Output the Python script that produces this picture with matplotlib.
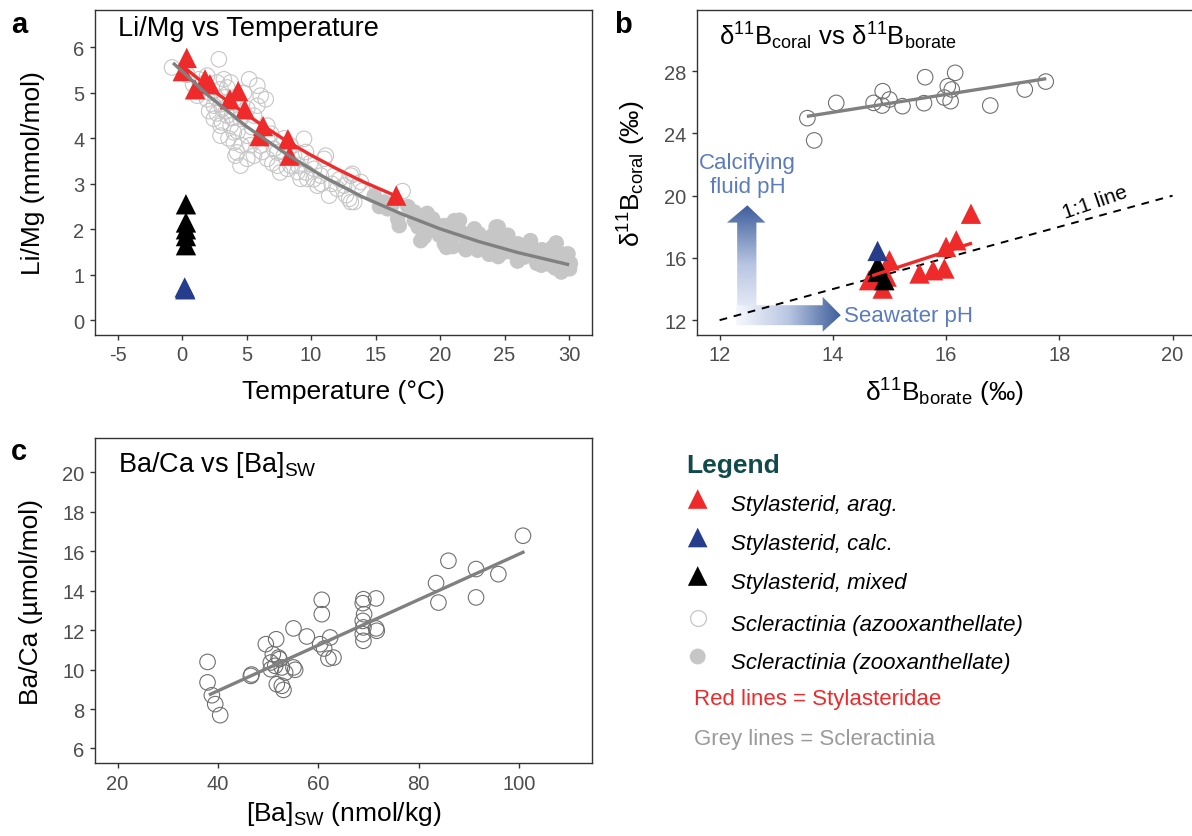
import numpy as np
import matplotlib
matplotlib.use("Agg")
import matplotlib.pyplot as plt
from matplotlib.patches import Polygon
from matplotlib.colors import LinearSegmentedColormap

plt.rcParams['font.family'] = ['Liberation Sans', 'DejaVu Sans']
plt.rcParams['mathtext.fontset'] = 'custom'
plt.rcParams['mathtext.rm'] = 'Liberation Sans'
plt.rcParams['mathtext.it'] = 'Liberation Sans:italic'
plt.rcParams['mathtext.bf'] = 'Liberation Sans:bold'
plt.rcParams['axes.unicode_minus'] = False

RED = '#ee2a2b'
BLUE = '#263d8c'
BLACK = '#000000'
LIGHT = '#c6c6c6'
DARKCIRC = '#707070'
GREYLINE = '#808080'
ARROW_BLUE = '#3d5d9b'
TEXT_BLUE = '#5b7bbf'

# --------------------------
# Panel a: Li/Mg vs temperature
# --------------------------
azoox_T = [-0.78, 2.85, 0.85, 1.17, 1.42, 1.94, 2.46, 2.72, 2.98, 3.24, 3.5, 3.76, 3.11, 3.5,
           4.01, 2.98, 3.76, 4.01, 4.27, 4.53, 4.14, 5.05, 5.57, 6.09, 5.83, 6.6, 6.6, 7.12,
           7.38, 7.9, 8.16, 8.94, 9.45, 9.19, 9.71, 10.23, 10.49, 11.01, 11.4, 11.79, 12.56,
           13.08, 13.34, 13.6, 12.95, 13.99, 17.09, 5.83, 6.48, 1.94, 2.46, 2.98, 5.05, 5.57,
           6.09, 8.42, 8.68, 10.75, 12.04, 4.01, 4.53, 5.05, 6.6, 7.38, 9.19, 9.97, 11.14,
           13.2, 13.08, 13.85,
           1.6, 2.2, 2.6, 3.0, 3.3, 3.4, 3.9, 3.1, 2.7, 3.6, 4.3, 4.6, 5.3, 6.2, 7.0, 7.6,
           8.4, 9.0, 9.6, 10.2, 10.8, 11.6, 12.2, 12.7, 7.9, 9.6, 6.9, 5.4, 2.1, 1.3, 0.4,
           4.8, 5.2]
azoox_limg = [5.56, 5.74, 5.19, 4.94, 5.08, 4.86, 4.72, 5.23, 5.08, 5.3, 5.12, 5.23, 4.65, 4.5,
              4.86, 4.06, 4.28, 3.91, 3.69, 3.4, 3.62, 4.06, 4.5, 4.94, 4.72, 4.28, 3.55, 3.77,
              3.4, 3.62, 3.33, 3.26, 3.99, 3.55, 3.11, 3.33, 2.96, 3.55, 2.74, 3.18, 2.96,
              3.18, 2.6, 2.96, 2.67, 2.85, 2.84, 5.16, 4.86, 5.38, 4.43, 4.28, 3.55, 3.62,
              3.84, 3.84, 3.62, 3.18, 2.89, 4.13, 4.43, 4.65, 3.99, 3.69, 3.11, 3.47, 3.62,
              3.22, 2.6, 3.04,
              5.2, 5.0, 4.9, 4.75, 4.9, 4.6, 4.45, 4.35, 4.55, 4.0, 4.15, 3.85, 3.85, 3.7,
              3.45, 3.25, 3.4, 3.4, 3.25, 3.1, 3.0, 3.0, 3.1, 2.75, 4.0, 3.7, 4.1, 4.25, 4.6,
              5.3, 5.4, 5.0, 5.3]

zoox_T = [14.89, 15.67, 15.93, 16.71, 16.83, 18.0, 18.52, 19.04, 19.42, 19.94, 20.33, 20.85,
          21.1, 21.62, 22.14, 22.66, 23.18, 23.7, 24.34, 24.21, 24.99, 25.51, 26.03, 26.54,
          27.06, 27.58, 28.36, 28.75, 29.39, 29.91, 30.04, 29.39, 27.84, 22.92, 20.33, 18.77,
          25.25, 18.0,
          17.5, 18.3, 19.0, 19.7, 20.5, 21.3, 21.9, 22.4, 23.0, 23.5, 24.0, 24.7, 25.0, 25.8,
          26.3, 26.8, 27.3, 27.9, 28.5, 29.0, 29.6, 30.1, 28.9, 15.3, 16.3, 21.0, 23.8,
          18.5, 20.5, 22.0, 24.5, 26.0, 27.5, 29.5, 19.0, 21.5, 24.5, 27.0, 29.0]
zoox_limg = [2.74, 2.6, 2.45, 2.23, 2.08, 2.38, 2.19, 2.01, 2.23, 1.87, 2.08, 1.79,
             2.19, 1.94, 1.68, 2.01, 1.72, 1.79, 2.05, 1.61, 1.65, 1.5, 1.68, 1.39,
             1.65, 1.43, 1.24, 1.61, 1.06, 1.46, 1.13, 1.35, 1.21, 1.54, 1.68, 1.83,
             1.87, 2.19,
             2.5, 2.05, 2.3, 2.1, 1.95, 2.05, 1.85, 1.8, 1.9, 1.6, 1.85, 1.8, 1.5, 1.55,
             1.6, 1.5, 1.4, 1.55, 1.4, 1.3, 1.45, 1.25, 1.15, 2.5, 2.55, 1.62, 1.45,
             1.75, 1.6, 1.55, 1.4, 1.3, 1.25, 1.15, 2.35, 2.2, 2.05, 1.75, 1.7]

arag_T = [0.36, 0.05, 1.0, 1.78, 2.16, 4.35, 3.7, 4.86, 6.28, 6.0, 8.2, 8.34, 16.6]
arag_limg = [5.77, 5.48, 5.08, 5.3, 5.19, 5.04, 4.86, 4.64, 4.27, 4.05, 3.98, 3.62, 2.74]
mixed_T = [0.3, 0.3, 0.3, 0.3, 0.3]
mixed_limg = [2.55, 2.15, 2.0, 1.85, 1.65]
calc_T = [0.2, 0.25]
calc_limg = [0.72, 0.68]

# fitted curves
grey_fit_T = [-0.7, 2, 5, 8, 11, 14, 17, 20, 23, 26, 30]
grey_fit_limg = [5.66, 4.95, 4.26, 3.67, 3.15, 2.71, 2.34, 2.01, 1.73, 1.49, 1.22]
red_fit_T = [0.0, 2, 4, 6, 8, 10, 12, 14, 16.6]
red_fit_limg = [5.6, 5.14, 4.72, 4.33, 3.96, 3.63, 3.33, 3.05, 2.73]

# --------------------------
# Panel b: d11B coral vs borate
# --------------------------
scler_borate = [13.55, 13.67, 14.06, 14.72, 14.88, 14.87, 15.0, 15.23, 15.63, 15.61, 15.97,
                16.03, 16.1, 16.08, 16.16, 16.78, 17.39, 17.76]
scler_coral = [24.98, 23.55, 25.96, 25.96, 26.71, 25.79, 26.18, 25.75, 27.61, 25.94, 26.3,
               27.03, 26.82, 26.07, 27.89, 25.79, 26.82, 27.33]
arag_borate = [16.44, 16.18, 16.0, 15.97, 15.77, 15.53, 15.0, 14.88, 14.85, 14.64, 14.95]
arag_coral = [18.84, 17.13, 16.71, 15.32, 15.21, 15.0, 15.85, 14.03, 14.67, 14.57, 14.8]
mixed_borate = [14.79, 14.79, 14.91]
mixed_coral = [15.53, 15.1, 14.57]
calc_borate = [14.79]
calc_coral = [16.45]
grey_fit_borate = [13.57, 17.74]
grey_fit_coral = [25.11, 27.5]
red_fit_borate = [14.72, 16.43]
red_fit_coral = [14.89, 16.92]
one_to_one = [12, 20]

# --------------------------
# Panel c: Ba/Ca vs [Ba]sw
# --------------------------
ba_sw = [37.93, 37.93, 38.79, 39.46, 40.45, 46.56, 46.7, 49.55, 50.94, 50.54, 50.54, 51.61,
         51.41, 52.27, 52.74, 51.74, 52.74, 53.07, 53.4, 55.06, 55.06, 55.39, 57.72, 60.7,
         60.7, 60.37, 61.17, 62.37, 62.03, 63.03, 68.87, 69.0, 68.87, 69.0, 68.87, 69.0,
         69.14, 71.53, 71.53, 71.66, 83.48, 83.95, 85.94, 91.45, 91.45, 95.9, 100.8, 52.1]
ba_ca = [10.39, 9.35, 8.7, 8.25, 7.69, 9.68, 9.75, 11.29, 10.78, 10.36, 10.02, 11.54,
         10.19, 10.53, 10.11, 9.26, 9.18, 8.97, 9.85, 12.09, 10.11, 9.99, 11.68, 13.54,
         12.81, 11.29, 11.07, 11.63, 10.56, 10.61, 13.37, 13.57, 12.47, 12.14, 11.8, 11.46,
         12.81, 13.61, 12.09, 11.97, 14.39, 13.4, 15.52, 15.1, 13.66, 14.84, 16.79, 10.61]
ba_fit_sw = [38.5, 100.8]
ba_fit_ca = [8.75, 15.95]

# --------------------------
# Figure layout
# --------------------------
fig = plt.figure(figsize=(11.92, 8.37), dpi=100)
ax_a = fig.add_axes([0.0797, 0.5986, 0.4167, 0.3883])
ax_b = fig.add_axes([0.5847, 0.5986, 0.4180, 0.3883])
ax_c = fig.add_axes([0.0797, 0.0869, 0.4167, 0.3887])


def style_axes(ax):
    for s in ax.spines.values():
        s.set_color('#333333')
        s.set_linewidth(1.0)
    ax.tick_params(direction='out', length=3.5, width=1.0, color='#333333',
                   labelsize=14.5, labelcolor='#4d4d4d', pad=4)


TRI = 215
CIRC = 125

# panel a
ax_a.scatter(zoox_T, zoox_limg, s=CIRC, color=LIGHT, edgecolor='none', zorder=2)
ax_a.scatter(azoox_T, azoox_limg, s=CIRC, facecolor='none', edgecolor=LIGHT, lw=0.8, zorder=3)
ax_a.scatter(arag_T, arag_limg, s=TRI, marker='^', color=RED, edgecolor='none', zorder=4)
ax_a.scatter(mixed_T, mixed_limg, s=TRI, marker='^', color=BLACK, edgecolor='none', zorder=4)
ax_a.scatter(calc_T, calc_limg, s=TRI, marker='^', color=BLUE, edgecolor='none', zorder=4)
ax_a.plot(grey_fit_T, grey_fit_limg, color=GREYLINE, lw=2.4, zorder=5, solid_capstyle='butt')
ax_a.plot(red_fit_T, red_fit_limg, color=RED, lw=2.4, zorder=5, solid_capstyle='butt')
ax_a.set_xlim(-6.75, 31.75)
ax_a.set_ylim(-0.325, 6.825)
ax_a.set_xticks(range(-5, 31, 5))
ax_a.set_yticks(range(0, 7))
style_axes(ax_a)
ax_a.set_xlabel('Temperature (°C)', fontsize=19)
ax_a.set_ylabel('Li/Mg (mmol/mol)', fontsize=19)
ax_a.xaxis.set_label_coords(0.5, -0.135)
ax_a.yaxis.set_label_coords(-0.10, 0.5)
ax_a.text(0.046, 0.923, 'Li/Mg vs Temperature', transform=ax_a.transAxes,
          fontsize=19.5, va='baseline', ha='left')

# panel b
ax_b.scatter(scler_borate, scler_coral, s=CIRC, facecolor='none', edgecolor=DARKCIRC, lw=0.8, zorder=4)
ax_b.scatter(arag_borate, arag_coral, s=TRI, marker='^', color=RED, edgecolor='none', zorder=4)
ax_b.scatter(mixed_borate, mixed_coral, s=TRI, marker='^', color=BLACK, edgecolor='none', zorder=4)
ax_b.scatter(calc_borate, calc_coral, s=TRI, marker='^', color=BLUE, edgecolor='none', zorder=4)
ax_b.plot(one_to_one, one_to_one, color='black', lw=1.4, ls=(0, (4, 3.5)), zorder=3)
ax_b.plot(grey_fit_borate, grey_fit_coral, color=GREYLINE, lw=2.4, zorder=5)
ax_b.plot(red_fit_borate, red_fit_coral, color=RED, lw=2.4, zorder=5)


def grad_arrow(ax, verts, extent, vertical):
    g = np.linspace(0, 1, 256)
    img = g[:, None] if vertical else g[None, :]
    cmap = LinearSegmentedColormap.from_list('arr', ['#f7f8fd', '#b9c6e2', ARROW_BLUE])
    im = ax.imshow(img, extent=extent, origin='lower', cmap=cmap, aspect='auto',
                   interpolation='bilinear', zorder=1)
    poly = Polygon(verts, closed=True, facecolor='none', edgecolor='none', transform=ax.transData)
    ax.add_patch(poly)
    im.set_clip_path(poly)


up_verts = [(12.31, 11.68), (12.65, 11.68), (12.65, 18.27), (12.81, 18.27), (12.49, 19.38),
            (12.13, 18.27), (12.31, 18.27)]
grad_arrow(ax_b, up_verts, (12.13, 12.81, 11.68, 19.38), True)
right_verts = [(12.29, 11.68), (13.82, 11.68), (13.82, 11.26), (14.14, 12.32), (13.82, 13.5),
               (13.82, 12.96), (12.29, 12.96)]
grad_arrow(ax_b, right_verts, (12.29, 14.14, 11.26, 13.5), False)
ax_b.text(12.49, 21.35, 'Calcifying\nfluid pH', color=TEXT_BLUE, fontsize=16,
          ha='center', va='center', linespacing=1.15)
ax_b.text(14.2, 12.32, 'Seawater pH', color=TEXT_BLUE, fontsize=16, ha='left', va='center')
ax_b.text(18.63, 19.6, '1:1 line', rotation=19, fontsize=15, ha='center', va='center',
          rotation_mode='anchor')

ax_b.set_xlim(11.6, 20.4)
ax_b.set_ylim(11.05, 31.93)
ax_b.set_xticks([12, 14, 16, 18, 20])
ax_b.set_yticks([12, 16, 20, 24, 28])
style_axes(ax_b)
ax_b.set_xlabel(r'δ$^{11}$B$_{\mathrm{borate}}$ (‰)', fontsize=19)
ax_b.set_ylabel(r'δ$^{11}$B$_{\mathrm{coral}}$ (‰)', fontsize=19)
ax_b.xaxis.set_label_coords(0.497, -0.125)
ax_b.yaxis.set_label_coords(-0.099, 0.5)
ax_b.text(0.045, 0.895, r'δ$^{11}$B$_{\mathrm{coral}}$ vs δ$^{11}$B$_{\mathrm{borate}}$',
          transform=ax_b.transAxes, fontsize=18.5, va='baseline', ha='left')

# panel c
ax_c.scatter(ba_sw, ba_ca, s=CIRC, facecolor='none', edgecolor=DARKCIRC, lw=0.8, zorder=3)
ax_c.plot(ba_fit_sw, ba_fit_ca, color=GREYLINE, lw=2.4, zorder=4)
ax_c.set_xlim(15.5, 114.5)
ax_c.set_ylim(5.25, 21.75)
ax_c.set_xticks([20, 40, 60, 80, 100])
ax_c.set_yticks(range(6, 21, 2))
style_axes(ax_c)
ax_c.set_xlabel(r'[Ba]$_{\mathrm{SW}}$ (nmol/kg)', fontsize=19)
ax_c.set_ylabel('Ba/Ca (µmol/mol)', fontsize=19)
ax_c.xaxis.set_label_coords(0.5, -0.11)
ax_c.yaxis.set_label_coords(-0.104, 0.5)
ax_c.text(0.046, 0.8995, r'Ba/Ca vs [Ba]$_{\mathrm{SW}}$', transform=ax_c.transAxes,
          fontsize=19.5, va='baseline', ha='left')

# --------------------------
# Overlay: panel letters and legend (pixel coordinates)
# --------------------------
ov = fig.add_axes([0, 0, 1, 1], zorder=10)
ov.set_xlim(0, 1192)
ov.set_ylim(837, 0)
ov.axis('off')
for letter, x, y in [('a', 11, 33), ('b', 614, 33), ('c', 11, 460)]:
    ov.text(x, y, letter, fontsize=21, fontweight='bold', va='baseline', ha='left')

legend_labels = ['Stylasterid, arag.', 'Stylasterid, calc.', 'Stylasterid, mixed',
                 'Scleractinia (azooxanthellate)', 'Scleractinia (zooxanthellate)']
ov.text(686, 473, 'Legend', fontsize=19, fontweight='bold', color='#114a4a', va='baseline')
row_y = [500, 538.5, 577, 619, 657.5]
ov.scatter([697.7] * 3, row_y[:3], s=200, marker='^', color=[RED, BLUE, BLACK], edgecolor='none')
ov.scatter([697.7], [row_y[3]], s=130, facecolor='white', edgecolor=LIGHT, lw=0.9)
ov.scatter([697.7], [row_y[4]], s=130, color=LIGHT, edgecolor='none')
for lab, y in zip(legend_labels, row_y):
    ov.text(730.7, y + 11.5, lab, fontsize=16, style='italic', va='baseline', ha='left')
ov.text(694, 705.5, 'Red lines = Stylasteridae', fontsize=16, color=RED, va='baseline')
ov.text(694, 745, 'Grey lines = Scleractinia', fontsize=16, color='#9a9a9a', va='baseline')

fig.savefig('out.png', dpi=100)
